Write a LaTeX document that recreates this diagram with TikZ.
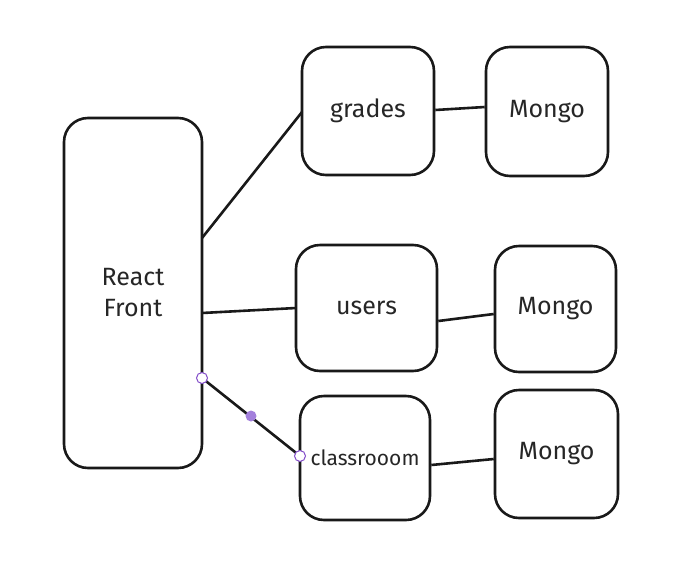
\documentclass[tikz,border=0pt]{standalone}
\usepackage{fontspec}
\setmainfont{Fira Sans}
\begin{document}
\begin{tikzpicture}[x=1pt,y=-1pt,
  box/.style={draw=black!90, line width=2.6pt, rounded corners=24pt, fill=white, font=\fontsize{25}{31}\selectfont\color{black!85}, align=center, inner sep=0pt},
  link/.style={draw=black!90, line width=2.6pt},
  handle/.style={circle, draw=violet!60!blue!70, fill=white, line width=1pt, minimum size=11pt, inner sep=0pt},
  mid/.style={circle, fill=violet!55!blue!50, minimum size=11pt, inner sep=0pt}]
\useasboundingbox (0,0) rectangle (678,574);
\fill[white] (0,0) rectangle (678,574);
\node[box, minimum width=138pt, minimum height=350pt] (react) at (133,293) {React\\Front};
\node[box, minimum width=132pt, minimum height=128pt] (grades) at (368,111) {grades};
\node[box, minimum width=122pt, minimum height=129pt] (m1) at (547,111.5) {Mongo};
\node[box, minimum width=141pt, minimum height=126pt] (users) at (366.5,308) {users};
\node[box, minimum width=121pt, minimum height=126pt] (m2) at (555.5,309) {Mongo};
\node[box, minimum width=130pt, minimum height=124pt, font=\fontsize{21}{25}\selectfont\color{black!85}] (class) at (365,458) {classrooom};
\node[box, minimum width=123pt, minimum height=128pt] (m3) at (556.5,454) {Mongo};
\coordinate (r1) at (202,238);
\coordinate (r2) at (202,313);
\coordinate (r3) at (202,378);
\coordinate (g1) at (302,112);
\coordinate (u1) at (296,308);
\coordinate (c1) at (300,456);
\draw[link] (r1) -- (g1);
\draw[link] (r2) -- (u1);
\draw[link] (r3) -- (c1);
\draw[link] (grades.east |- 0,110) -- (m1.west |- 0,107);
\draw[link] (users.east |- 0,321) -- (m2.west |- 0,314);
\draw[link] (class.east |- 0,465) -- (m3.west |- 0,459);
\node[handle] (h1) at (r3) {};
\node[handle] (h2) at (c1) {};
\node[mid] (h3) at (251,416) {};
\end{tikzpicture}
\end{document}
